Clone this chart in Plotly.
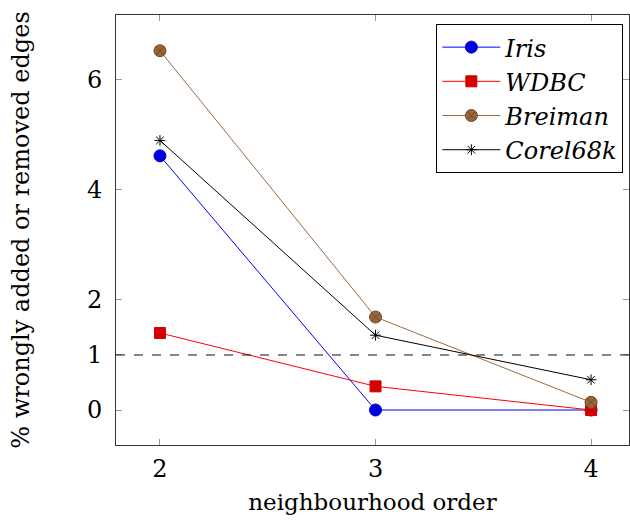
import plotly.graph_objects as go

x_order = [2, 3, 4]
iris = [4.62, 0.0, 0.0]
wdbc = [1.4, 0.43, 0.0]
breiman = [6.53, 1.69, 0.14]
corel = [4.9, 1.36, 0.55]
threshold = 1
y_ticks = [0, 1, 2, 4, 6]

FONT = "DejaVu Serif"
fig = go.Figure()

fig.add_trace(go.Scatter(x=x_order, y=iris, name="<i>Iris</i>", mode="lines+markers",
                         line=dict(color="#0000ff", width=1),
                         marker=dict(symbol="circle", size=12, color="#0000dd",
                                     line=dict(color="#0000dd", width=1))))
fig.add_trace(go.Scatter(x=x_order, y=wdbc, name="<i>WDBC</i>", mode="lines+markers",
                         line=dict(color="#ff0000", width=1),
                         marker=dict(symbol="square", size=11, color="#d40000",
                                     line=dict(color="#d40000", width=1))))
fig.add_trace(go.Scatter(x=x_order, y=breiman, name="<i>Breiman</i>", mode="lines+markers",
                         line=dict(color="#9c6a3a", width=1),
                         marker=dict(symbol="circle-x", size=12, color="#99663a",
                                     line=dict(color="#6e4a28", width=1))))
fig.add_trace(go.Scatter(x=x_order, y=corel, name="<i>Corel68k</i>", mode="lines+markers",
                         line=dict(color="#000000", width=1),
                         marker=dict(symbol="asterisk-open", size=9,
                                     line=dict(color="#000000", width=1))))

fig.add_shape(type="line", xref="paper", x0=0, x1=1, yref="y", y0=threshold, y1=threshold,
              line=dict(color="#111111", width=1, dash="dash"))

axis_common = dict(showline=True, linecolor="#333333", linewidth=1, mirror="ticks",
                   ticks="inside", ticklen=6, tickcolor="#999999", showgrid=False,
                   zeroline=False, tickfont=dict(family=FONT, size=24, color="black"))

fig.update_xaxes(range=[1.796, 4.176], tickvals=x_order, ticktext=[str(v) for v in x_order],
                 title=dict(text="neighbourhood order", font=dict(family=FONT, size=23, color="black"),
                            standoff=12),
                 ticklabelstandoff=2,
                 **axis_common)
fig.update_yaxes(range=[-0.636, 7.18], tickvals=y_ticks, ticktext=[str(v) for v in y_ticks],
                 title=dict(text="% wrongly added or removed edges",
                            font=dict(family=FONT, size=24, color="black"), standoff=50),
                 ticklabelstandoff=8,
                 **axis_common)

fig.update_layout(
    width=630, height=521,
    margin=dict(l=116, r=1, t=15, b=76, autoexpand=False),
    plot_bgcolor="white", paper_bgcolor="white",
    font=dict(family=FONT, color="black"),
    legend=dict(x=0.989, y=0.979, xanchor="right", yanchor="top",
                bordercolor="black", borderwidth=1, bgcolor="white",
                font=dict(family=FONT, size=24, color="black"),
                tracegroupgap=0, itemwidth=58),
    showlegend=True,
)

fig.write_html("out.html", config={"displayModeBar": False},
               post_script="document.body.style.margin='0px';")
